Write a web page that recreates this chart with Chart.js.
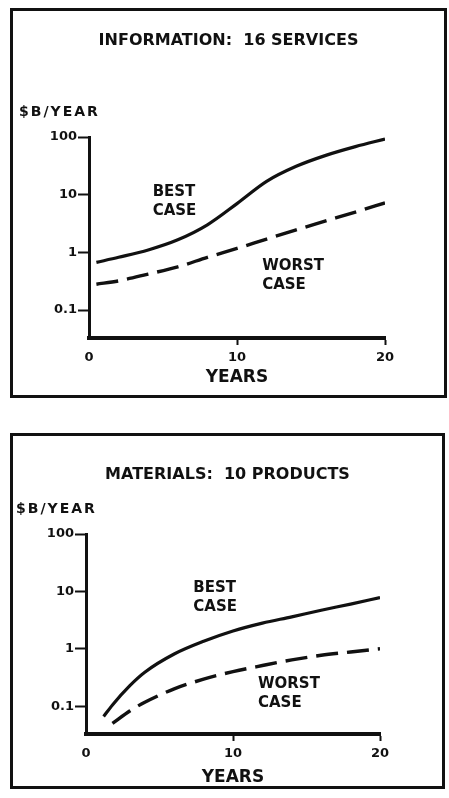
<!DOCTYPE html>
<html>
<head>
<meta charset="utf-8">
<script src="https://cdn.jsdelivr.net/npm/chart.js@4.4.0/dist/chart.umd.min.js"></script>
<style>
  body { margin: 0; background: #fff; }
  .panel { position: absolute; border: 3px solid #111; box-sizing: border-box; }
  .panel canvas { position: absolute; left: 0; top: 0; }
</style>
</head>
<body>
<div class="panel" style="left:10px; top:8px; width:437px; height:390px;">
  <canvas id="infoChart" width="431" height="384"></canvas>
</div>
<div class="panel" style="left:10px; top:433px; width:435px; height:356px;">
  <canvas id="matChart" width="429" height="350"></canvas>
</div>
<script>
// information: 16 services ($B/year)
const infoYears = [0.5, 2, 4, 6, 8, 10, 12, 14, 16, 18, 20];
const infoBest  = [0.67, 0.82, 1.1, 1.65, 3.0, 7.0, 17, 31, 48, 68, 92];
const infoWorst = [0.28, 0.32, 0.42, 0.56, 0.82, 1.17, 1.7, 2.45, 3.5, 5.0, 7.2];

// materials: 10 products ($B/year)
const matYears = [1.2, 1.8, 3, 4, 6, 8, 10, 12, 14, 16, 18, 20];
const matBest  = [0.066, 0.105, 0.23, 0.39, 0.81, 1.35, 2.04, 2.8, 3.6, 4.7, 6.0, 7.8];
const matWorst = [null, 0.05, 0.083, 0.117, 0.2, 0.295, 0.4, 0.51, 0.64, 0.77, 0.88, 1.0];

const yTicks = [0.1, 1, 10, 100];
const xTicks = [0, 10, 20];

const INK = '#111';
const FONT = '"DejaVu Sans", sans-serif';

// headings, unit, axis name and curve names
const panelText = {
  id: 'panelText',
  afterDraw(chart, args, opts) {
    const { ctx, chartArea, scales } = chart;
    ctx.save();
    ctx.fillStyle = INK;
    ctx.textBaseline = 'middle';

    ctx.textAlign = 'center';
    ctx.font = 'bold 16px ' + FONT;
    ctx.fillText(opts.title, chart.width / 2, opts.titleY);

    ctx.textAlign = 'left';
    ctx.font = 'bold 14px ' + FONT;
    ctx.letterSpacing = '2px';
    ctx.fillText('$B/YEAR', chartArea.left - 70, chartArea.top - 25);
    ctx.letterSpacing = '0px';

    ctx.textAlign = 'center';
    ctx.font = 'bold 17px ' + FONT;
    ctx.fillText('YEARS', scales.x.getPixelForValue(10), chartArea.bottom + opts.yearsGap);

    ctx.textAlign = 'left';
    ctx.font = 'bold 15px ' + FONT;
    opts.notes.forEach(n => {
      const x = scales.x.getPixelForValue(n.x);
      const y = scales.y.getPixelForValue(n.y);
      n.lines.forEach((t, i) => ctx.fillText(t, x, y + i * 19));
    });
    ctx.restore();
  }
};

function points(xs, ys) {
  return xs.map((x, i) => ({ x: x, y: ys[i] }));
}

function makeChart(id, cfg) {
  return new Chart(document.getElementById(id), {
    type: 'line',
    data: {
      datasets: [
        {
          label: 'Best case',
          data: points(cfg.years, cfg.best),
          borderColor: INK,
          borderWidth: 3.2,
          pointRadius: 0,
          cubicInterpolationMode: 'monotone'
        },
        {
          label: 'Worst case',
          data: points(cfg.years, cfg.worst),
          borderColor: INK,
          borderWidth: 3.4,
          borderDash: [22, 9],
          pointRadius: 0,
          cubicInterpolationMode: 'monotone'
        }
      ]
    },
    options: {
      responsive: false,
      animation: false,
      layout: { padding: cfg.padding },
      plugins: {
        legend: { display: false },
        tooltip: { enabled: false },
        panelText: { title: cfg.title, titleY: cfg.titleY, yearsGap: cfg.yearsGap, notes: cfg.notes }
      },
      scales: {
        x: {
          type: 'linear',
          min: 0,
          max: 20,
          afterBuildTicks: s => { s.ticks = xTicks.map(v => ({ value: v })); },
          afterFit: s => { s.height = cfg.xHeight; },
          ticks: {
            color: INK,
            font: { family: FONT, size: 13, weight: 'bold' },
            padding: 5,
            maxRotation: 0,
            callback: v => String(v)
          },
          grid: {
            drawOnChartArea: false,
            tickLength: 7,
            tickWidth: 2,
            color: c => (c.tick && c.tick.value === 0) ? 'rgba(0,0,0,0)' : INK
          },
          border: { display: true, width: 4, color: INK }
        },
        y: {
          type: 'logarithmic',
          min: 0.0327,
          max: 100,
          afterBuildTicks: s => { s.ticks = yTicks.map(v => ({ value: v })); },
          afterFit: s => { s.width = cfg.yWidth; },
          ticks: {
            color: INK,
            font: { family: FONT, size: 13, weight: 'bold' },
            padding: 1,
            callback: v => String(v)
          },
          grid: {
            drawOnChartArea: false,
            tickLength: 11,
            tickWidth: 2,
            color: INK
          },
          border: { display: true, width: 3, color: INK }
        }
      }
    },
    plugins: [panelText]
  });
}

makeChart('infoChart', {
  title: 'INFORMATION:  16 SERVICES',
  titleY: 30,
  years: infoYears, best: infoBest, worst: infoWorst,
  padding: { left: 0, right: 59, top: 126, bottom: 17 },
  yWidth: 76, xHeight: 40, yearsGap: 40,
  notes: [
    { x: 4.3, y: 11, lines: ['BEST', 'CASE'] },
    { x: 11.7, y: 0.57, lines: ['WORST', 'CASE'] }
  ]
});

makeChart('matChart', {
  title: 'MATERIALS:  10 PRODUCTS',
  titleY: 39,
  years: matYears, best: matBest, worst: matWorst,
  padding: { left: 0, right: 62, top: 98, bottom: 12 },
  yWidth: 73, xHeight: 40, yearsGap: 44,
  notes: [
    { x: 7.3, y: 11.5, lines: ['BEST', 'CASE'] },
    { x: 11.7, y: 0.24, lines: ['WORST', 'CASE'] }
  ]
});
</script>
</body>
</html>
